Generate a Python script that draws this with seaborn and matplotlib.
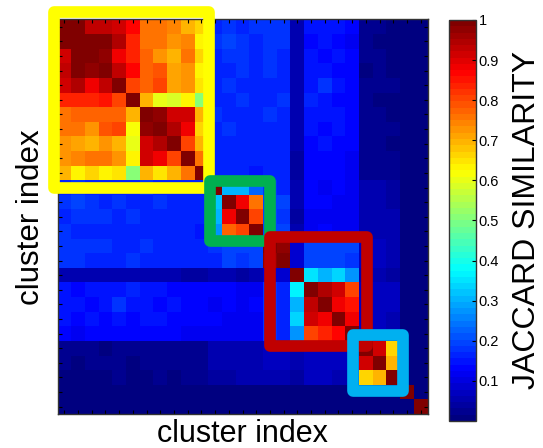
# Матрица сходства кластеров (Jaccard) с выделенными группами
import numpy as np
import matplotlib
matplotlib.use('Agg')
import matplotlib.pyplot as plt
import seaborn as sns
from matplotlib.colors import LinearSegmentedColormap
from matplotlib.patches import Rectangle

# --- данные: сходство внутри групп кластеров ---
group_a = [  # кластеры 0-10
    [1.00, 1.00, 0.93, 0.93, 0.91, 0.86, 0.75, 0.75, 0.74, 0.70, 0.67],
    [1.00, 1.00, 1.00, 1.00, 0.94, 0.84, 0.76, 0.76, 0.72, 0.74, 0.63],
    [0.92, 1.00, 1.00, 0.97, 0.89, 0.84, 0.77, 0.73, 0.70, 0.75, 0.66],
    [0.93, 1.00, 0.97, 1.00, 0.93, 0.86, 0.77, 0.79, 0.71, 0.73, 0.64],
    [0.91, 0.94, 0.89, 0.93, 1.00, 0.80, 0.77, 0.80, 0.71, 0.73, 0.65],
    [0.84, 0.84, 0.84, 0.85, 0.80, 1.00, 0.69, 0.60, 0.59, 0.63, 0.50],
    [0.75, 0.77, 0.77, 0.77, 0.77, 0.69, 1.00, 0.97, 0.91, 0.91, 0.69],
    [0.76, 0.75, 0.73, 0.79, 0.81, 0.61, 0.97, 1.00, 0.94, 0.89, 0.66],
    [0.73, 0.71, 0.70, 0.72, 0.70, 0.60, 0.91, 0.94, 1.00, 0.81, 0.70],
    [0.72, 0.74, 0.76, 0.75, 0.73, 0.63, 0.91, 0.89, 0.81, 1.00, 0.75],
    [0.69, 0.63, 0.66, 0.63, 0.65, 0.50, 0.69, 0.65, 0.70, 0.75, 1.00],
]
group_b = [  # кластеры 11-14
    [1.00, 0.30, 0.30, 0.22],
    [0.32, 1.00, 0.89, 0.75],
    [0.31, 0.89, 1.00, 0.81],
    [0.27, 0.77, 0.81, 1.00],
]
group_c = [  # кластеры 15-21
    [1.00, 0.98, 0.09, 0.19, 0.19, 0.19, 0.19],
    [0.98, 1.00, 0.09, 0.19, 0.19, 0.19, 0.18],
    [0.09, 0.09, 1.00, 0.35, 0.31, 0.34, 0.28],
    [0.18, 0.17, 0.36, 1.00, 0.94, 0.92, 0.81],
    [0.18, 0.17, 0.31, 0.93, 1.00, 0.89, 0.85],
    [0.18, 0.17, 0.33, 0.92, 0.89, 1.00, 0.875],
    [0.18, 0.17, 0.28, 0.81, 0.84, 0.86, 1.00],
]
group_d = [  # кластеры 22-24
    [1.00, 0.91, 0.67],
    [0.91, 1.00, 0.70],
    [0.66, 0.70, 1.00],
]
group_e = [  # кластеры 25-26
    [1.00, 0.01],
    [0.01, 1.00],
]

# --- сходство между группами (строки - первая группа) ---
a_b = [
    [0.17, 0.18, 0.17, 0.18], [0.18, 0.19, 0.18, 0.17], [0.17, 0.18, 0.18, 0.16],
    [0.16, 0.17, 0.18, 0.17], [0.17, 0.18, 0.17, 0.17], [0.16, 0.17, 0.18, 0.16],
    [0.18, 0.17, 0.17, 0.16], [0.17, 0.18, 0.16, 0.17], [0.16, 0.17, 0.17, 0.16],
    [0.17, 0.16, 0.17, 0.16], [0.16, 0.16, 0.17, 0.15],
]
a_c = [
    [0.18, 0.18, 0.06, 0.15, 0.15, 0.15, 0.14],
    [0.18, 0.18, 0.06, 0.14, 0.15, 0.14, 0.12],
    [0.18, 0.17, 0.06, 0.15, 0.14, 0.15, 0.14],
    [0.18, 0.17, 0.05, 0.15, 0.15, 0.14, 0.14],
    [0.17, 0.17, 0.05, 0.15, 0.18, 0.15, 0.13],
    [0.17, 0.18, 0.06, 0.16, 0.15, 0.14, 0.13],
    [0.18, 0.17, 0.05, 0.15, 0.15, 0.15, 0.14],
    [0.17, 0.17, 0.05, 0.15, 0.14, 0.15, 0.13],
    [0.17, 0.16, 0.05, 0.14, 0.15, 0.14, 0.13],
    [0.16, 0.17, 0.04, 0.14, 0.14, 0.13, 0.12],
    [0.16, 0.16, 0.04, 0.14, 0.13, 0.13, 0.12],
]
a_d = [
    [0.02, 0.02, 0.015], [0.02, 0.015, 0.015], [0.02, 0.02, 0.015],
    [0.015, 0.02, 0.015], [0.02, 0.02, 0.02], [0.02, 0.015, 0.015],
    [0.02, 0.02, 0.015], [0.02, 0.02, 0.02], [0.02, 0.02, 0.015],
    [0.025, 0.02, 0.02], [0.03, 0.025, 0.02],
]
a_e = [[0.01, 0.01]] * 11
b_c = [
    [0.18, 0.17, 0.05, 0.13, 0.12, 0.13, 0.12],
    [0.19, 0.19, 0.05, 0.13, 0.13, 0.12, 0.11],
    [0.19, 0.18, 0.04, 0.12, 0.12, 0.12, 0.11],
    [0.19, 0.19, 0.05, 0.12, 0.13, 0.12, 0.11],
]
b_d = [
    [0.05, 0.05, 0.045], [0.055, 0.05, 0.045],
    [0.06, 0.055, 0.05], [0.06, 0.055, 0.05],
]
b_e = [[0.015, 0.01]] * 4
c_d = [
    [0.07, 0.065, 0.06], [0.07, 0.065, 0.06], [0.05, 0.05, 0.045],
    [0.075, 0.07, 0.065], [0.075, 0.07, 0.065], [0.07, 0.07, 0.06],
    [0.07, 0.065, 0.06],
]
c_e = [[0.015, 0.01]] * 7
d_e = [[0.015, 0.01]] * 3

# рамки групп: (левый, правый, верхний, нижний край в единицах кластеров, цвет)
boxes = [
    (-0.26, 11.09, -0.53, 11.50, '#FFFF00'),
    (11.13, 15.50, 11.05, 15.17, '#00B050'),
    (15.50, 22.60, 14.87, 22.36, '#C00000'),
    (21.55, 25.18, 21.60, 25.44, '#00B0F0'),
]

# Сборка полной матрицы
A, B, C, D, E = (np.array(g) for g in (group_a, group_b, group_c, group_d, group_e))
AB, AC, AD, AE = (np.array(g) for g in (a_b, a_c, a_d, a_e))
BC, BD, BE = (np.array(g) for g in (b_c, b_d, b_e))
CD, CE, DE = (np.array(g) for g in (c_d, c_e, d_e))
sim = np.block([
    [A, AB, AC, AD, AE],
    [AB.T, B, BC, BD, BE],
    [AC.T, BC.T, C, CD, CE],
    [AD.T, BD.T, CD.T, D, DE],
    [AE.T, BE.T, CE.T, DE.T, E],
])
n = sim.shape[0]

# Палитра jet как в MATLAB (64 уровня)
jet64 = LinearSegmentedColormap.from_list(
    'matlab_jet',
    [(0, (0, 0, 0.5)), (1 / 8, (0, 0, 1)), (3 / 8, (0, 1, 1)),
     (5 / 8, (1, 1, 0)), (7 / 8, (1, 0, 0)), (1, (0.5, 0, 0))], N=64)

plt.rcParams['font.family'] = ['Liberation Sans', 'DejaVu Sans']

fig = plt.figure(figsize=(5.43, 4.48), dpi=100)
ax = fig.add_axes([0.1059, 0.0759, 0.6814, 0.8806])
cax = fig.add_axes([0.8269, 0.0603, 0.0497, 0.8951])

sns.heatmap(sim, cmap=jet64, vmin=0, vmax=1, ax=ax, cbar_ax=cax,
            xticklabels=False, yticklabels=False)

# Оси: засечки в центрах ячеек со всех сторон
ax.set_xticks(np.arange(n) + 0.5)
ax.set_yticks(np.arange(n) + 0.5)
ax.set_xticklabels([])
ax.set_yticklabels([])
ax.tick_params(direction='in', length=3, width=0.8, top=True, right=True,
               bottom=True, left=True, color='black')
for spine in ax.spines.values():
    spine.set_visible(True)
    spine.set_color('#333333')
    spine.set_linewidth(1)

ax.set_xlabel('cluster index', fontsize=22, labelpad=0)
ax.set_ylabel('cluster index', fontsize=22.5, labelpad=5)

# Рамки вокруг групп
for x0, x1, y0, y1, color in boxes:
    ax.add_patch(Rectangle((x0, y0), x1 - x0, y1 - y0, fill=False,
                           edgecolor=color, linewidth=8.4, joinstyle='round',
                           clip_on=False, zorder=5))

# Цветовая шкала
cbar = ax.collections[0].colorbar
cbar.outline.set_linewidth(1)
cbar.outline.set_edgecolor('#333333')
cbar.set_ticks([0.1, 0.2, 0.3, 0.4, 0.5, 0.6, 0.7, 0.8, 0.9, 1.0])
cbar.set_ticklabels(['0.1', '0.2', '0.3', '0.4', '0.5', '0.6', '0.7', '0.8', '0.9', '1'])
cax.tick_params(direction='in', length=3, width=0.8, labelsize=10.5, pad=2)
cbar.set_label('JACCARD SIMILARITY', fontsize=23, labelpad=9)

plt.savefig('out.png', dpi=100)
plt.close()
